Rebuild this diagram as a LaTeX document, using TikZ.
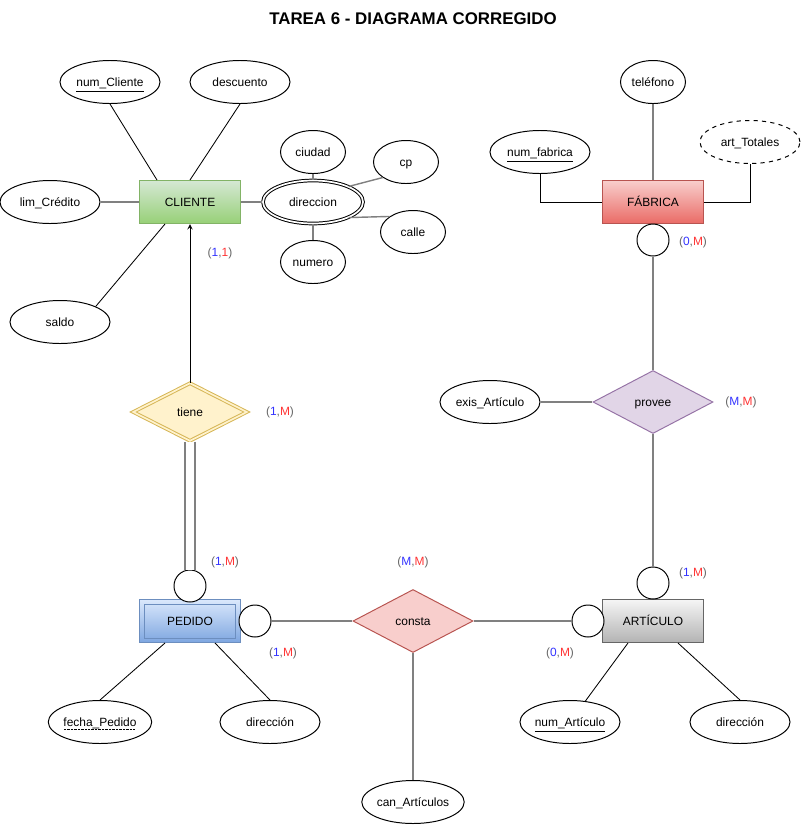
\documentclass[tikz,border=0pt]{standalone}
\usepackage{fontspec}
\setmainfont{Liberation Sans}
\usetikzlibrary{arrows,shapes.geometric,calc}
\definecolor{er_green_t}{HTML}{D5E8D4}
\definecolor{er_green_b}{HTML}{97D077}
\definecolor{er_green_d}{HTML}{82B366}
\definecolor{er_red_t}{HTML}{F8CECC}
\definecolor{er_red_b}{HTML}{EA6B66}
\definecolor{er_red_d}{HTML}{B85450}
\definecolor{er_blue_t}{HTML}{DAE8FC}
\definecolor{er_blue_b}{HTML}{7EA6E0}
\definecolor{er_blue_d}{HTML}{6C8EBF}
\definecolor{er_grey_t}{HTML}{F5F5F5}
\definecolor{er_grey_b}{HTML}{B3B3B3}
\definecolor{er_grey_d}{HTML}{666666}
\definecolor{er_yellow}{HTML}{FFF2CC}
\definecolor{er_yellow_d}{HTML}{D6B656}
\definecolor{er_purple}{HTML}{E1D5E7}
\definecolor{er_purple_d}{HTML}{9673A6}
\definecolor{er_line}{HTML}{808080}
\definecolor{c_blue}{HTML}{3333FF}
\definecolor{c_red}{HTML}{FF3333}
\definecolor{c_par}{HTML}{666666}
\newcommand{\card}[2]{{\color{c_par}(}{\color{c_blue}#1}{\color{c_par},}{\color{c_red}#2}{\color{c_par})}}
\newcommand{\dotul}[1]{\setbox0\hbox{#1}\rlap{\copy0}\raisebox{-1.6pt}{\hbox to \wd0{\leaders\hbox to 1pt{\hss\rule{0.5pt}{0.4pt}\hss}\hfill}}}
\tikzstyle{ent}=[rectangle,draw,line width=0.7pt,minimum width=2.5cm,minimum height=1.075cm,
  inner sep=0pt,text height=7.5pt,text depth=0.5pt,font=\fontsize{8.5}{10}\selectfont]
\tikzstyle{attr}=[ellipse,draw=black,line width=0.7pt,fill=white,minimum width=2.5cm,
  minimum height=1.075cm,inner sep=0pt,text height=7.5pt,text depth=0.5pt,font=\fontsize{8.5}{10}\selectfont]
\tikzstyle{attrs}=[attr,minimum width=1.625cm]
\tikzstyle{rel}=[diamond,draw,line width=0.7pt,minimum width=3cm,minimum height=1.575cm,
  inner sep=0pt,text height=7.5pt,text depth=0.5pt,font=\fontsize{8.5}{10}\selectfont]
\tikzstyle{ci}=[circle,draw=black,line width=0.7pt,fill=white,minimum size=0.8cm,inner sep=0pt]
\tikzstyle{cd}=[font=\fontsize{8.5}{10}\selectfont]
\tikzstyle{ln}=[draw=er_line,line width=1pt]
\tikzstyle{al}=[draw=black,line width=0.6pt]
\tikzstyle{none}=[]

\begin{document}
\begin{tikzpicture}[x=0.025cm, y=-0.025cm]
            \useasboundingbox (0, 0) rectangle (802, 825);
            \node [style=none, font=\fontsize{12}{14}\selectfont\bfseries] (0) at (413, 19) {TAREA 6 - DIAGRAMA CORREGIDO};
            % cliente
            \node [style=ent, draw=er_green_d, top color=er_green_t, bottom color=er_green_b] (1) at (190, 202) {CLIENTE};
            \node [style=attr] (2) at (110, 82) {\underline{num\_Cliente}};
            \node [style=attr] (3) at (240, 82) {descuento};
            \node [style=attr] (4) at (50, 202) {lim\_Crédito};
            \node [style=attr] (5) at (60, 322) {saldo};
            \node [style=attr, double, double distance=1.2pt] (6) at (313, 202) {direccion};
            \node [style=attrs] (7) at (313, 152) {ciudad};
            \node [style=attrs] (8) at (406, 162) {cp};
            \node [style=attrs] (9) at (413, 232) {calle};
            \node [style=attrs] (10) at (313, 262) {numero};
            \node [style=cd] (11) at (220, 253) {\card{1}{1}};
            % tiene
            \node [style=rel, draw=er_yellow_d, fill=er_yellow, double=er_yellow, double distance=1.2pt,
              minimum width=2.85cm, minimum height=1.45cm] (12) at (190, 412) {tiene};
            \node [style=cd] (13) at (280, 412) {\card{1}{M}};
            % pedido
            \node [style=ent, draw=er_blue_d, top color=er_blue_t, bottom color=er_blue_b] (15) at (190, 621) {PEDIDO};
            \draw [draw=er_blue_d, line width=0.7pt] ([shift={(5, 5)}]15.north west) rectangle ([shift={(-5, -5)}]15.south east);
            \node [style=ci] (14) at (190, 586) {};
            \node [style=ci] (16) at (255, 621) {};
            \node [style=cd] (17) at (225, 562) {\card{1}{M}};
            \node [style=cd] (18) at (283, 653) {\card{1}{M}};
            \node [style=attr] (19) at (100, 722) {\dotul{fecha\_Pedido}};
            \node [style=attr] (20) at (270, 722) {dirección};
            % consta
            \node [style=rel, draw=er_red_d, fill=er_red_t] (21) at (413, 621) {consta};
            \node [style=cd] (22) at (413, 562) {\card{M}{M}};
            \node [style=attr] (23) at (413, 802) {can\_Artículos};
            % articulo
            \node [style=ent, draw=er_grey_d, top color=er_grey_t, bottom color=er_grey_b] (24) at (653, 621) {ARTÍCULO};
            \node [style=ci] (25) at (588, 621) {};
            \node [style=ci] (26) at (653, 583) {};
            \node [style=cd] (27) at (693, 573) {\card{1}{M}};
            \node [style=cd] (28) at (560, 653) {\card{0}{M}};
            \node [style=attr] (29) at (570, 722) {\underline{num\_Artículo}};
            \node [style=attr] (30) at (740, 722) {dirección};
            % fabrica
            \node [style=ent, draw=er_red_d, top color=er_red_t, bottom color=er_red_b] (31) at (653, 202) {FÁBRICA};
            \node [style=attrs] (32) at (653, 82) {teléfono};
            \node [style=attr] (33) at (540, 152) {\underline{num\_fabrica}};
            \node [style=attr, dashed] (34) at (750, 142) {art\_Totales};
            \node [style=ci] (35) at (653, 240) {};
            \node [style=cd] (36) at (693, 242) {\card{0}{M}};
            % provee
            \node [style=rel, draw=er_purple_d, fill=er_purple] (37) at (653, 402) {provee};
            \node [style=cd] (38) at (741, 402) {\card{M}{M}};
            \node [style=attr] (39) at (490, 402) {exis\_Artículo};
            \draw [style=al] (2.south) to ($(1.north)+(-33, 0)$);
            \draw [style=al] (3.south) to (1.north);
            \draw [style=ln] (4) to (1);
            \draw [style=al] (5.north east) to ($(1.south)+(-25, 0)$);
            \draw [style=ln] (1) to (6);
            \draw [style=ln] (7) to (6);
            \draw [style=ln] (8.south west) to (6.north east);
            \draw [style=ln] (9.north west) to (6.south east);
            \draw [style=ln] (10) to (6);
            \draw [draw=black, line width=0.7pt, -stealth] (12.north) to (1.south);
            \draw [draw=er_line, line width=1pt, double=white, double distance=6pt] (12.south) to (14.north);
            \draw [style=ln] (16) to (21);
            \draw [style=ln] (21) to (25);
            \draw [style=ln] (21) to (23);
            \draw [style=al] (19.north) to ($(15.south)+(-25, 0)$);
            \draw [style=al] (20.north) to ($(15.south)+(25, 0)$);
            \draw [style=al] ($(24.south)+(-25, 0)$) to (29);
            \draw [style=al] ($(24.south)+(25, 0)$) to (30.north);
            \draw [style=ln] (32) to (31);
            \draw [style=al] (33.south) |- (31.west);
            \draw [style=al] (34.south) |- (31.east);
            \draw [style=ln] (35) to (37);
            \draw [style=ln] (39) to (37);
            \draw [style=ln] (37) to (26);
    \end{tikzpicture}
\end{document}
